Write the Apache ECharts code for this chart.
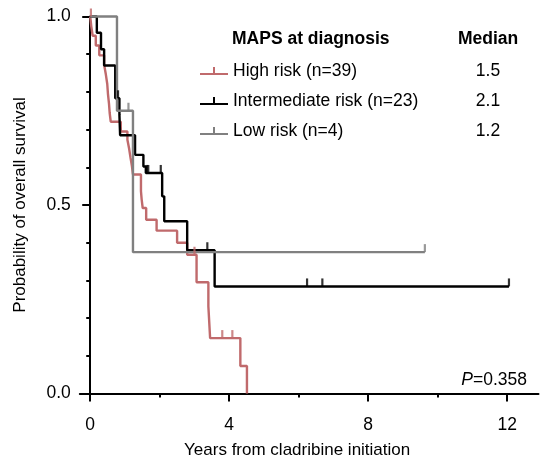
<!DOCTYPE html>
<html>
<head>
<meta charset="utf-8">
<script src="https://cdn.jsdelivr.net/npm/echarts@6/dist/echarts.min.js"></script>
<style>html,body{margin:0;padding:0;background:#fff}#c{width:541px;height:463px}</style>
</head>
<body>
<div id="c"></div>
<script>
// ---- data ----
const seriesNames = ['High risk (n=39)', 'Intermediate risk (n=23)', 'Low risk (n=4)'];
const medians = ['1.5', '2.1', '1.2'];
const xTickValues = [0, 4, 8, 12];
const xMinorTickValues = [2, 6, 10];
const pValue = '0.358';

// High risk: event times and survival after each event
const highTimes = [0.03, 0.07, 0.16, 0.26, 0.40, 0.45, 0.49, 0.51, 0.54, 0.56, 0.59, 0.88, 1.07, 1.12, 1.16, 1.20, 1.23, 1.46, 1.48, 1.51, 1.61, 1.91, 2.50, 2.79, 3.06, 3.40, 3.45, 4.32, 4.51];
const highSurv  = [0.974, 0.949, 0.923, 0.897, 0.872, 0.846, 0.821, 0.795, 0.769, 0.744, 0.721, 0.695, 0.673, 0.649, 0.625, 0.603, 0.581, 0.537, 0.515, 0.492, 0.461, 0.432, 0.40, 0.368, 0.295, 0.231, 0.147, 0.073, 0];
const highCensor = [0.02, 3.00, 3.80, 4.09];

// Intermediate risk
const intTimes = [0.19, 0.31, 0.40, 0.72, 0.84, 0.86, 1.29, 1.53, 1.60, 2.07, 2.13, 2.79, 3.58];
const intSurv  = [0.957, 0.913, 0.870, 0.783, 0.739, 0.685, 0.633, 0.602, 0.585, 0.523, 0.457, 0.38, 0.284];
const intCensor = [0.80, 1.63, 1.67, 2.03, 3.37, 6.24, 6.68, 12.05];

// Low risk
const lowTimes = [0.77, 1.23];
const lowSurv  = [0.75, 0.375];
const lowCensor = [1.10, 9.63];

// ---- helpers ----
function survAt(times, surv, t) {
  let s = 1;
  for (let i = 0; i < times.length; i++) { if (times[i] <= t) s = surv[i]; }
  return s;
}
function stepData(times, surv, censor) {
  const d = [[0, 1]];
  for (let i = 0; i < times.length; i++) d.push([times[i], surv[i]]);
  const lastC = Math.max.apply(null, censor);
  const lastT = times[times.length - 1];
  if (lastC > lastT) d.push([lastC, surv[surv.length - 1]]);
  return d;
}
function censorData(times, surv, censor) {
  return censor.map(t => [t, survAt(times, surv, t)]);
}

const colors = ['#c06a6c', '#000000', '#808080'];
const FONT = "'Liberation Sans', Arial, Helvetica, sans-serif";
const groups = [
  [highTimes, highSurv, highCensor],
  [intTimes, intSurv, intCensor],
  [lowTimes, lowSurv, lowCensor]
];

const series = [];
const drawOrder = [2, 0, 1];
drawOrder.forEach(function (gi) {
  const g = groups[gi];
  series.push({
    name: seriesNames[gi], type: 'line', step: 'end', showSymbol: false, symbol: 'none',
    clip: false, data: stepData(g[0], g[1], g[2]),
    lineStyle: { color: colors[gi], width: 2.4 }, itemStyle: { color: colors[gi] },
    z: 2 + gi, animation: false
  });
  series.push({
    name: seriesNames[gi], type: 'scatter', symbol: 'rect', symbolSize: [2.2, 8], symbolOffset: [0, -4],
    clip: false, data: censorData(g[0], g[1], g[2]),
    itemStyle: { color: colors[gi] }, z: 5 + gi, animation: false, silent: true
  });
});

const chart = echarts.init(document.getElementById('c'), null, { renderer: 'canvas' });
chart.setOption({
  animation: false,
  backgroundColor: '#fff',
  textStyle: { fontFamily: FONT },
  grid: { left: 79.8, right: 2.5, top: 16.5, bottom: 69.5, containLabel: false, outerBoundsMode: 'none' },
  xAxis: [{
    type: 'value', min: -0.3, max: 12.9,
    name: 'Years from cladribine initiation', nameLocation: 'middle', nameGap: 48,
    nameTextStyle: { fontSize: 17, color: '#000', fontFamily: FONT, padding: [0, 24, 0, 0] },
    axisLine: { show: true, onZero: false, lineStyle: { color: '#000', width: 2 } },
    axisTick: { show: true, length: 8, lineStyle: { color: '#000', width: 2 }, customValues: xTickValues },
    axisLabel: { customValues: xTickValues, fontSize: 17.5, color: '#000', margin: 23, fontFamily: FONT },
    splitLine: { show: false }
  }, {
    type: 'value', min: -0.3, max: 12.9, position: 'bottom',
    axisLine: { show: false, onZero: false },
    axisTick: { show: true, length: 4, lineStyle: { color: '#000', width: 2 }, customValues: xMinorTickValues },
    axisLabel: { show: false }, splitLine: { show: false }
  }],
  yAxis: {
    type: 'value', min: 0, max: 1, interval: 0.5,
    name: 'Probability of overall survival', nameLocation: 'middle', nameGap: 51,
    nameTextStyle: { fontSize: 17, color: '#000', fontFamily: FONT },
    axisLine: { show: true, onZero: true, lineStyle: { color: '#000', width: 2 } },
    axisTick: { show: true, length: 8, lineStyle: { color: '#000', width: 2 } },
    minorTick: { show: true, splitNumber: 5, length: 4, lineStyle: { color: '#000', width: 2 } },
    axisLabel: { fontSize: 17.5, color: '#000', margin: 9, fontFamily: FONT, formatter: v => v.toFixed(1) },
    splitLine: { show: false }, minorSplitLine: { show: false }
  },
  legend: {
    data: seriesNames, orient: 'vertical', left: 195, top: 56,
    icon: 'path://M0,6 L28,6 L28,8 L0,8 Z M13,0 L15,0 L15,6 L13,6 Z',
    itemWidth: 28, itemHeight: 8, itemGap: 10, selectedMode: false,
    formatter: function (name) { return '{a|' + name + '}{b|' + medians[seriesNames.indexOf(name)] + '}'; },
    textStyle: {
      fontFamily: FONT, fontSize: 17.5, color: '#000', lineHeight: 20,
      rich: {
        a: { fontSize: 17.5, fontFamily: FONT, width: 239, color: '#000', lineHeight: 20 },
        b: { fontSize: 17.5, fontFamily: FONT, width: 32, align: 'center', color: '#000', lineHeight: 20 }
      }
    }
  },
  graphic: [
    { type: 'text', left: 232, top: 30, style: { text: 'MAPS at diagnosis', font: 'bold 17.5px ' + FONT, fill: '#000' } },
    { type: 'text', left: 458, top: 30, style: { text: 'Median', font: 'bold 17.5px ' + FONT, fill: '#000' } },
    { type: 'text', right: 14, top: 371, style: {
        text: '{i|P}{n|=' + pValue + '}',
        rich: { i: { font: 'italic 17.5px ' + FONT, fill: '#000' }, n: { font: '17.5px ' + FONT, fill: '#000' } } } }
  ],
  series: series
});
</script>
</body>
</html>
